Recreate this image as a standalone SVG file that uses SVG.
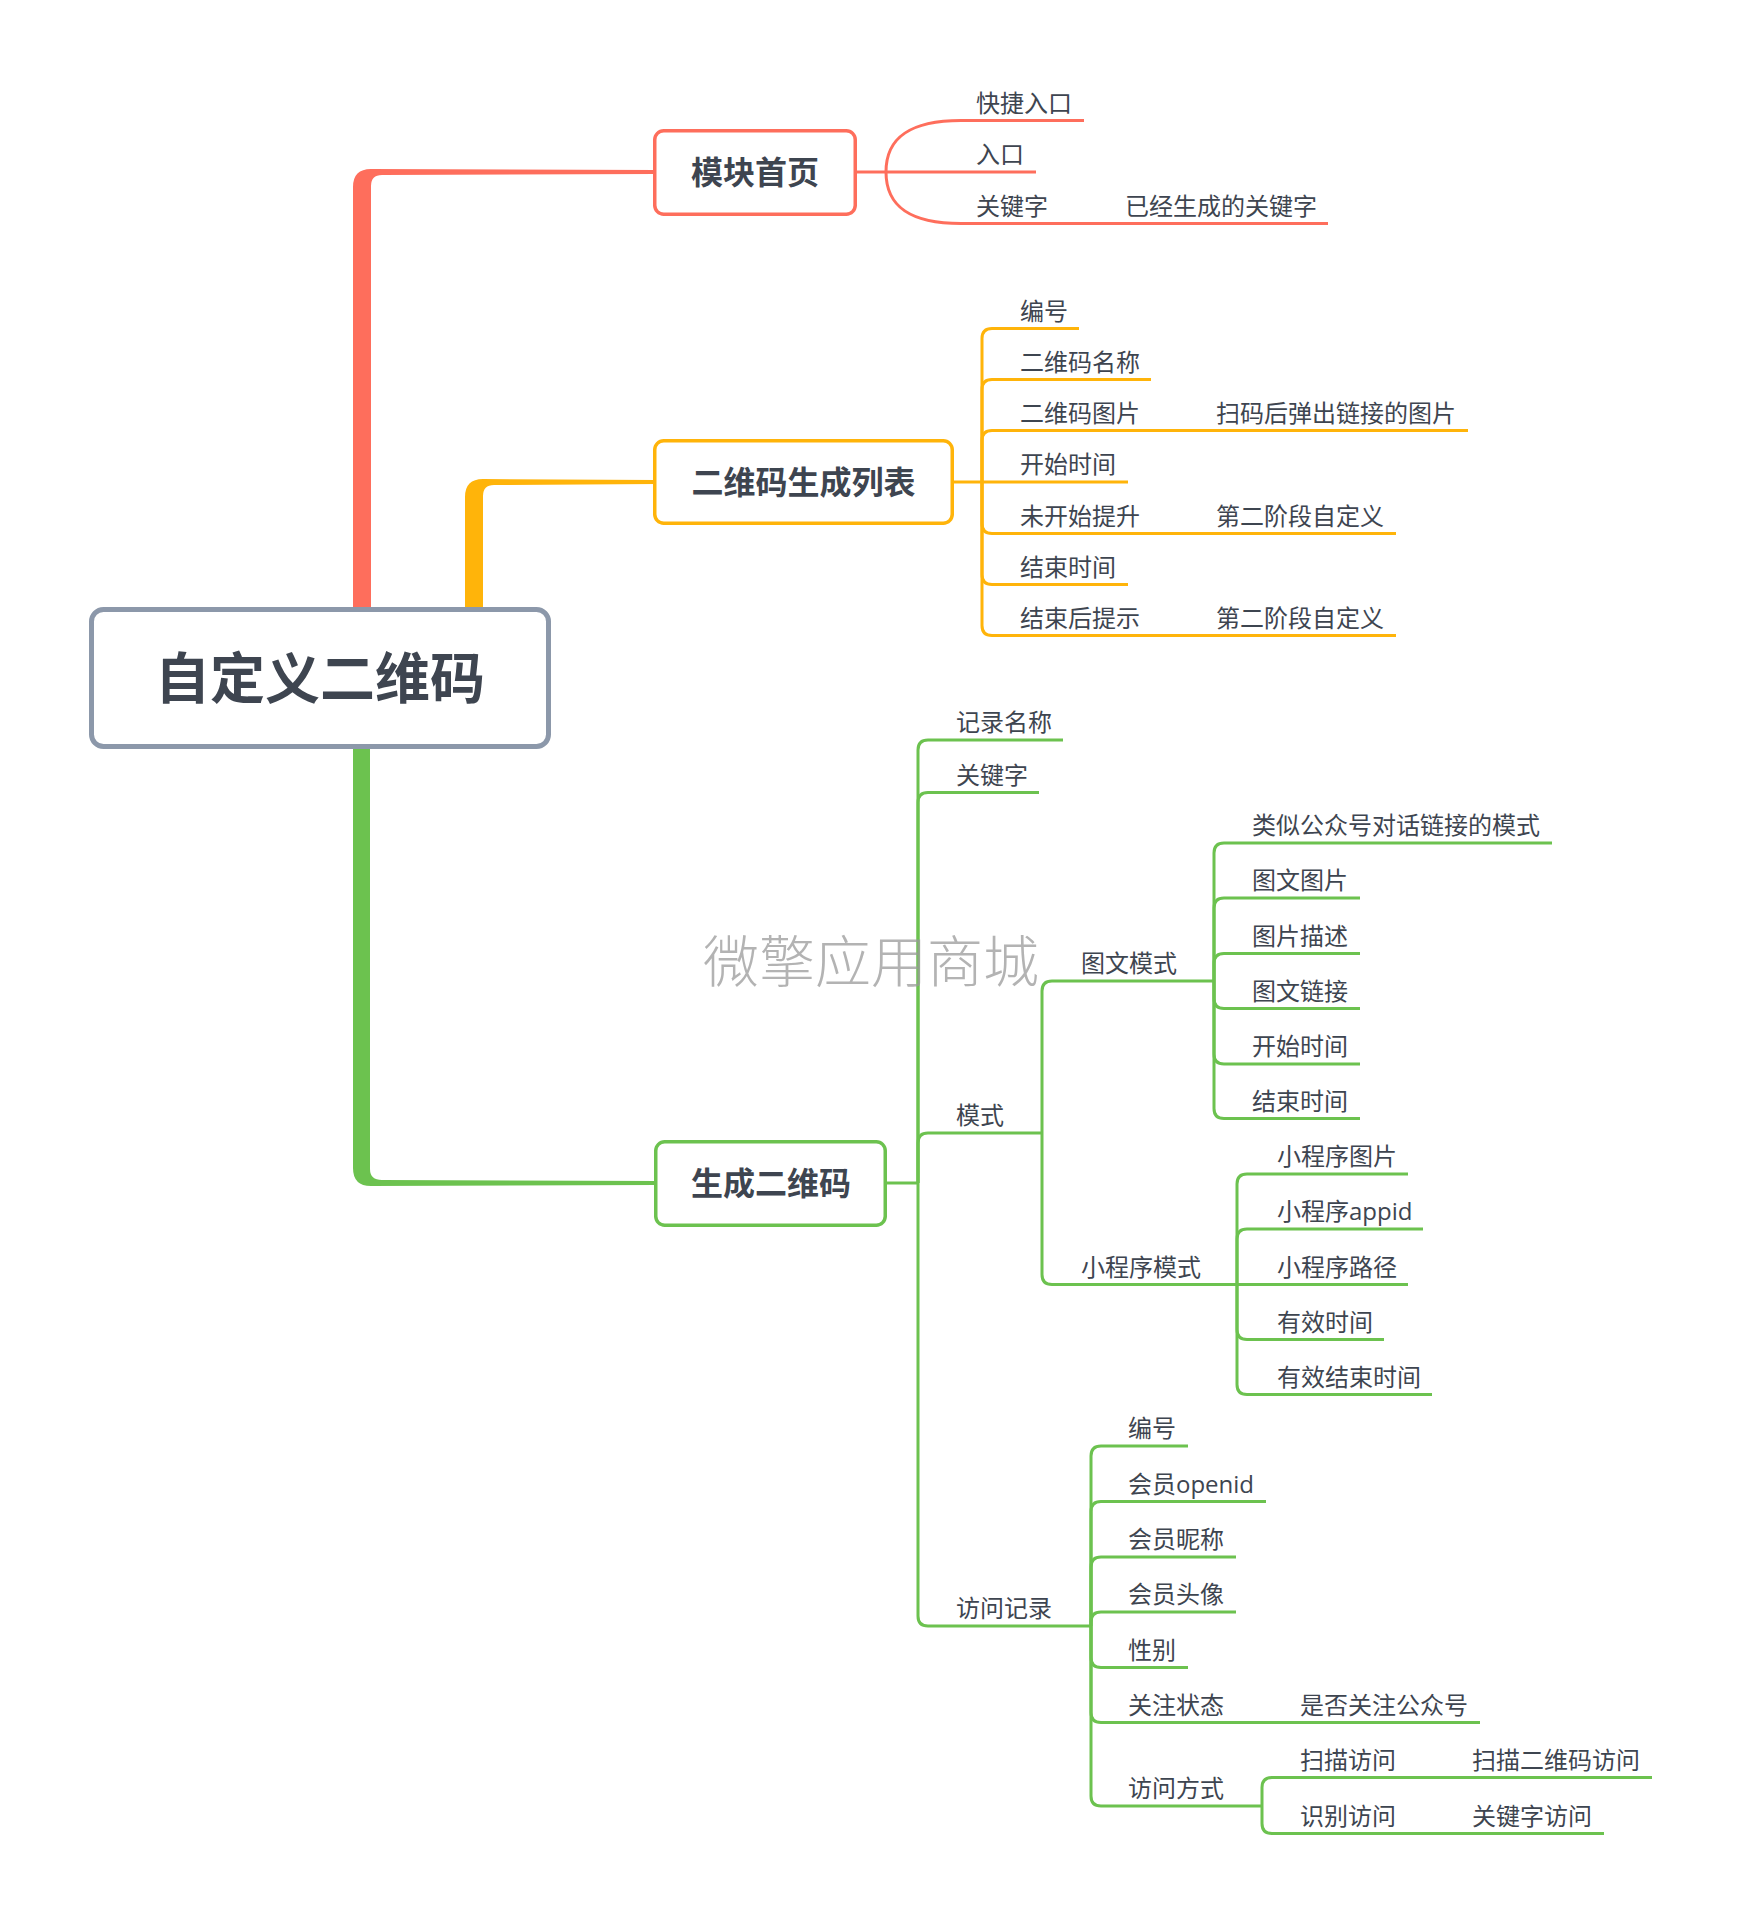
<svg xmlns="http://www.w3.org/2000/svg" width="1739" height="1923" viewBox="0 0 1739 1923">
<style>
.lbl{font-family:"Open Sans","Noto Sans CJK SC",sans-serif;font-size:24px;fill:#3e4550}
.bold{font-family:"Open Sans","Noto Sans CJK SC",sans-serif;font-weight:700;fill:#3e4550;text-anchor:middle}
.r{stroke:#fe6e5c;fill:none;stroke-width:3}
.y{stroke:#ffb40a;fill:none;stroke-width:3}
.g{stroke:#6cc24f;fill:none;stroke-width:3}
.box{fill:#ffffff;stroke-width:3.5}
.wm{font-family:"Noto Sans CJK SC",sans-serif;font-weight:300;font-size:56px;fill:#9a9a9a;fill-opacity:0.75}
</style>
<rect width="1739" height="1923" fill="#ffffff"/>
<g id="connectors">
  <path d="M353,612 L353,187 Q353,169 371,169 L656,170 L656,174 L382,175 Q371,175 371,186 L371,612 Z" fill="#fe6e5c"/>
  <path d="M465,612 L465,497 Q465,479 483,479 L656,480 L656,484 L494,485 Q483,485 483,496 L483,612 Z" fill="#ffb40a"/>
  <path d="M353,744 L353,1168 Q353,1186 371,1186 L657,1185 L657,1181 L382,1180 Q370,1180 370,1169 L370,744 Z" fill="#6cc24f"/>
  <g class="r">
    <path d="M857,172 L886,172"/>
    <path d="M886,172 C886,136 912,120.5 961,120.5 L1084,120.5"/>
    <path d="M886,172 L1036,172"/>
    <path d="M886,172 C886,208 912,223.5 961,223.5 L1328,223.5"/>
  </g>
  <g class="y">
    <path d="M954,482 L982,482"/>
    <path d="M982,482 L982,338.5 Q982,328.5 992,328.5 L1079,328.5"/>
    <path d="M982,482 L982,389.5 Q982,379.5 992,379.5 L1151,379.5"/>
    <path d="M982,482 L982,440.5 Q982,430.5 992,430.5 L1468,430.5"/>
    <path d="M982,482 L1128,482"/>
    <path d="M982,482 L982,523.5 Q982,533.5 992,533.5 L1396,533.5"/>
    <path d="M982,482 L982,574.5 Q982,584.5 992,584.5 L1128,584.5"/>
    <path d="M982,482 L982,625.5 Q982,635.5 992,635.5 L1396,635.5"/>
  </g>
  <g class="g">
    <path d="M887,1183 L918,1183"/>
    <path d="M918,1183 L918,750 Q918,740 928,740 L1063,740"/>
    <path d="M918,1183 L918,802.5 Q918,792.5 928,792.5 L1039,792.5"/>
    <path d="M918,1183 L918,1143 Q918,1133 928,1133 L1042,1133"/>
    <path d="M918,1183 L918,1616 Q918,1626 928,1626 L1091,1626"/>
    <path d="M1042,1133 L1042,991 Q1042,981 1052,981 L1214,981"/>
    <path d="M1042,1133 L1042,1274.5 Q1042,1284.5 1052,1284.5 L1237,1284.5"/>
    <path d="M1214,981 L1214,853 Q1214,843 1224,843 L1552,843"/>
    <path d="M1214,981 L1214,908 Q1214,898 1224,898 L1360,898"/>
    <path d="M1214,981 L1214,963.5 Q1214,953.5 1224,953.5 L1360,953.5"/>
    <path d="M1214,981 L1214,998.5 Q1214,1008.5 1224,1008.5 L1360,1008.5"/>
    <path d="M1214,981 L1214,1054 Q1214,1064 1224,1064 L1360,1064"/>
    <path d="M1214,981 L1214,1108.5 Q1214,1118.5 1224,1118.5 L1360,1118.5"/>
    <path d="M1237,1284.5 L1237,1184 Q1237,1174 1247,1174 L1408,1174"/>
    <path d="M1237,1284.5 L1237,1239 Q1237,1229 1247,1229 L1423,1229"/>
    <path d="M1237,1284.5 L1408,1284.5"/>
    <path d="M1237,1284.5 L1237,1329.5 Q1237,1339.5 1247,1339.5 L1384,1339.5"/>
    <path d="M1237,1284.5 L1237,1384.5 Q1237,1394.5 1247,1394.5 L1432,1394.5"/>
    <path d="M1091,1626 L1091,1456 Q1091,1446 1101,1446 L1188,1446"/>
    <path d="M1091,1626 L1091,1511.5 Q1091,1501.5 1101,1501.5 L1266,1501.5"/>
    <path d="M1091,1626 L1091,1567 Q1091,1557 1101,1557 L1236,1557"/>
    <path d="M1091,1626 L1091,1622 Q1091,1612 1101,1612 L1236,1612"/>
    <path d="M1091,1626 L1091,1657.5 Q1091,1667.5 1101,1667.5 L1188,1667.5"/>
    <path d="M1091,1626 L1091,1712.5 Q1091,1722.5 1101,1722.5 L1480,1722.5"/>
    <path d="M1091,1626 L1091,1796 Q1091,1806 1101,1806 L1262,1806"/>
    <path d="M1262,1806 L1262,1787.5 Q1262,1777.5 1272,1777.5 L1652,1777.5"/>
    <path d="M1262,1806 L1262,1823.5 Q1262,1833.5 1272,1833.5 L1604,1833.5"/>
  </g>
</g>
<g id="root">
  <rect x="91.5" y="609.5" width="457" height="137" rx="12" fill="#ffffff" stroke="#8c98aa" stroke-width="5"/>
  <text class="bold" x="320" y="698" font-size="55">自定义二维码</text>
</g>
<g id="n-mokuai">
  <rect class="box" x="654.75" y="130.75" width="200.5" height="83.5" rx="9" stroke="#fe6e5c"/>
  <text class="bold" x="755" y="184" font-size="32">模块首页</text>
</g>
<g id="n-kuaijie"><text class="lbl" x="976" y="111.5">快捷入口</text></g>
<g id="n-rukou"><text class="lbl" x="976" y="163">入口</text></g>
<g id="n-guanjianzi1"><text class="lbl" x="976" y="214.5">关键字</text></g>
<g id="n-yijing"><text class="lbl" x="1125" y="214.5">已经生成的关键字</text></g>
<g id="n-liebiao">
  <rect class="box" x="654.75" y="440.75" width="297.5" height="82.5" rx="9" stroke="#ffb40a"/>
  <text class="bold" x="803.5" y="494" font-size="32">二维码生成列表</text>
</g>
<g id="n-bianhao1"><text class="lbl" x="1020" y="319.5">编号</text></g>
<g id="n-mingcheng"><text class="lbl" x="1020" y="370.5">二维码名称</text></g>
<g id="n-tupian"><text class="lbl" x="1020" y="421.5">二维码图片</text></g>
<g id="n-saoma"><text class="lbl" x="1216" y="421.5">扫码后弹出链接的图片</text></g>
<g id="n-kaishi1"><text class="lbl" x="1020" y="473">开始时间</text></g>
<g id="n-weikaishi"><text class="lbl" x="1020" y="524.5">未开始提升</text></g>
<g id="n-dierjieduan1"><text class="lbl" x="1216" y="524.5">第二阶段自定义</text></g>
<g id="n-jieshu1"><text class="lbl" x="1020" y="575.5">结束时间</text></g>
<g id="n-jieshuhou"><text class="lbl" x="1020" y="626.5">结束后提示</text></g>
<g id="n-dierjieduan2"><text class="lbl" x="1216" y="626.5">第二阶段自定义</text></g>
<g id="n-shengcheng">
  <rect class="box" x="655.75" y="1141.75" width="229.5" height="83.5" rx="9" stroke="#6cc24f"/>
  <text class="bold" x="771" y="1195" font-size="32">生成二维码</text>
</g>
<g id="n-jilu"><text class="lbl" x="956" y="731">记录名称</text></g>
<g id="n-guanjianzi2"><text class="lbl" x="956" y="783.5">关键字</text></g>
<g id="n-moshi"><text class="lbl" x="956" y="1124">模式</text></g>
<g id="n-fangwenjilu"><text class="lbl" x="956" y="1617">访问记录</text></g>
<g id="n-tuwenmoshi"><text class="lbl" x="1081" y="972">图文模式</text></g>
<g id="n-xiaochengxumoshi"><text class="lbl" x="1081" y="1275.5">小程序模式</text></g>
<g id="n-leisi"><text class="lbl" x="1252" y="834">类似公众号对话链接的模式</text></g>
<g id="n-tuwentupian"><text class="lbl" x="1252" y="889">图文图片</text></g>
<g id="n-tupianmiaoshu"><text class="lbl" x="1252" y="944.5">图片描述</text></g>
<g id="n-tuwenlianjie"><text class="lbl" x="1252" y="999.5">图文链接</text></g>
<g id="n-kaishi2"><text class="lbl" x="1252" y="1055">开始时间</text></g>
<g id="n-jieshu2"><text class="lbl" x="1252" y="1109.5">结束时间</text></g>
<g id="n-xcx-tupian"><text class="lbl" x="1277" y="1165">小程序图片</text></g>
<g id="n-xcx-appid"><text class="lbl" x="1277" y="1220">小程序appid</text></g>
<g id="n-xcx-lujing"><text class="lbl" x="1277" y="1275.5">小程序路径</text></g>
<g id="n-youxiao"><text class="lbl" x="1277" y="1330.5">有效时间</text></g>
<g id="n-youxiaojieshu"><text class="lbl" x="1277" y="1385.5">有效结束时间</text></g>
<g id="n-bianhao2"><text class="lbl" x="1128" y="1437">编号</text></g>
<g id="n-openid"><text class="lbl" x="1128" y="1492.5">会员openid</text></g>
<g id="n-nicheng"><text class="lbl" x="1128" y="1548">会员昵称</text></g>
<g id="n-touxiang"><text class="lbl" x="1128" y="1603">会员头像</text></g>
<g id="n-xingbie"><text class="lbl" x="1128" y="1658.5">性别</text></g>
<g id="n-guanzhu"><text class="lbl" x="1128" y="1713.5">关注状态</text></g>
<g id="n-shifou"><text class="lbl" x="1300" y="1713.5">是否关注公众号</text></g>
<g id="n-fangwenfangshi"><text class="lbl" x="1128" y="1797">访问方式</text></g>
<g id="n-saomiao"><text class="lbl" x="1300" y="1768.5">扫描访问</text></g>
<g id="n-saomiaoerweima"><text class="lbl" x="1472" y="1768.5">扫描二维码访问</text></g>
<g id="n-shibie"><text class="lbl" x="1300" y="1824.5">识别访问</text></g>
<g id="n-guanjianzifangwen"><text class="lbl" x="1472" y="1824.5">关键字访问</text></g>
<text class="wm" x="703" y="982">微擎应用商城</text>
</svg>
